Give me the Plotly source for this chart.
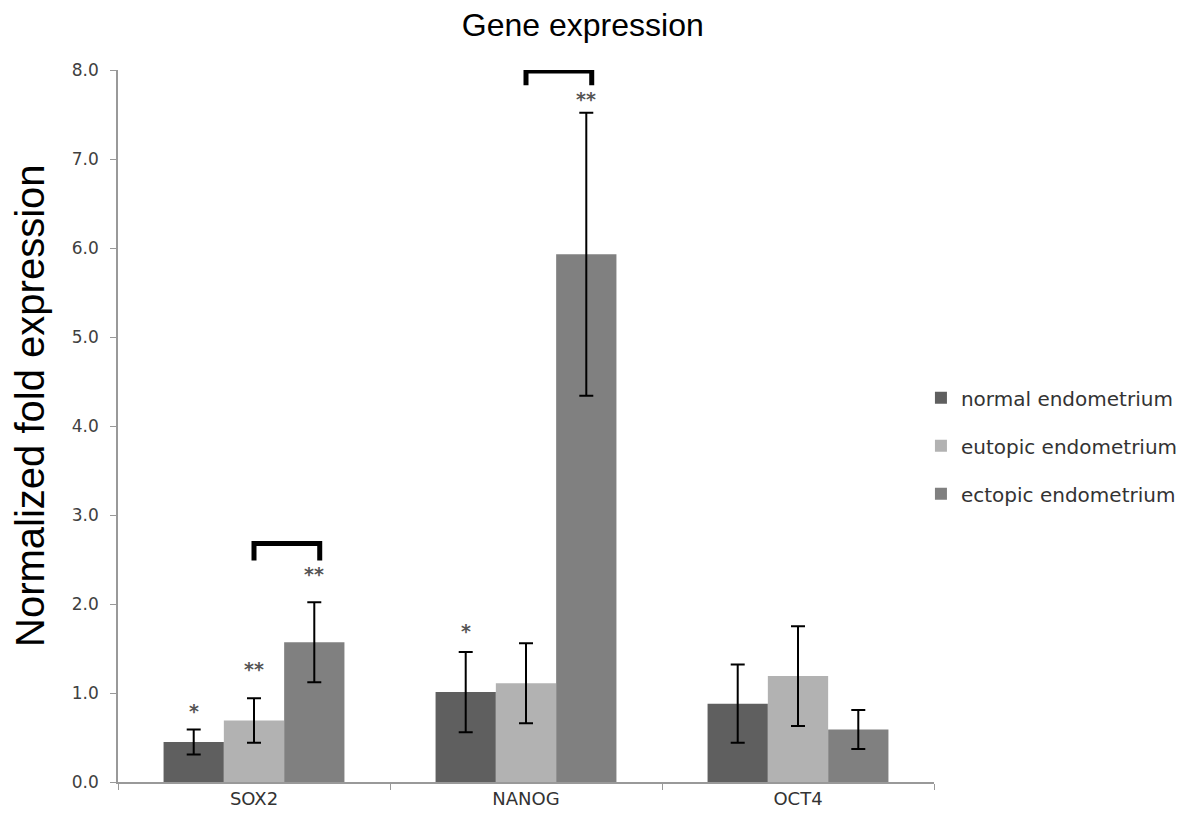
import plotly.graph_objects as go

genes = ["SOX2", "NANOG", "OCT4"]
series_names = ["normal endometrium", "eutopic endometrium", "ectopic endometrium"]
normal_vals = [0.45, 1.01, 0.88]
normal_err = [0.14, 0.45, 0.44]
eutopic_vals = [0.69, 1.11, 1.19]
eutopic_err = [0.25, 0.45, 0.56]
ectopic_vals = [1.57, 5.93, 0.59]
ectopic_err = [0.45, 1.59, 0.22]
colors = ["#5f5f5f", "#b2b2b2", "#808080"]
y_ticks = [0, 1, 2, 3, 4, 5, 6, 7, 8]

# significance stars: (gene index, series index, y position, text)
star_gene = [0, 0, 0, 1, 1]
star_series = [0, 1, 2, 0, 2]
star_y = [0.80, 1.27, 2.34, 1.70, 7.67]
star_text = ["*", "**", "**", "*", "**"]

# brackets: gene index, top y, bottom y (from middle bar to right bar)
bracket_gene = [0, 1]
bracket_top = [2.68, 7.99]
bracket_bottom = [2.49, 7.83]

values = [normal_vals, eutopic_vals, ectopic_vals]
errors = [normal_err, eutopic_err, ectopic_err]

fig = go.Figure()
for i in range(3):
    fig.add_trace(go.Bar(
        name=series_names[i], x=genes, y=values[i],
        marker=dict(color=colors[i], line=dict(width=0)),
        error_y=dict(type="data", array=errors[i], color="black", thickness=2, width=7),
        legendgroup=series_names[i],
    ))

bargap = 0.335
bw = (1 - bargap) / 3
offsets = [-bw, 0, bw]

annotations = []
for g, s, y, t in zip(star_gene, star_series, star_y, star_text):
    annotations.append(dict(x=g + offsets[s], y=y, xref="x", yref="y", text=t,
                            showarrow=False, font=dict(family="DejaVu Sans", size=19, color="#555555", weight="bold")))

shapes = []
for g, yt, yb in zip(bracket_gene, bracket_top, bracket_bottom):
    x0 = g + offsets[1]
    x1 = g + offsets[2] + 0.02
    shapes.append(dict(type="path", xref="x", yref="y",
                       path=f"M {x0},{yb} L {x0},{yt} L {x1},{yt} L {x1},{yb}",
                       line=dict(color="black", width=5)))

annotations.append(dict(x=-0.108, y=0.528, xref="paper", yref="paper", text="Normalized fold expression",
                        textangle=-90, showarrow=False, xanchor="center", yanchor="middle",
                        font=dict(family="Liberation Sans, Arial", size=40, color="black")))

fig.update_layout(
    width=1200, height=828,
    paper_bgcolor="white", plot_bgcolor="white",
    margin=dict(l=110, r=274, t=62, b=54),
    barmode="group", bargap=bargap, bargroupgap=0,
    title=dict(text="Gene expression", x=0.479, xref="container", y=0.993, yref="container",
               xanchor="center", yanchor="top",
               font=dict(family="Liberation Sans, Arial", size=32, color="black")),
    xaxis=dict(showline=True, linecolor="#999999", linewidth=1.5, ticks="outside", tickson="boundaries",
               ticklen=6, tickcolor="#999999", showgrid=False, range=[-0.5, 2.5],
               tickfont=dict(family="DejaVu Sans", size=18, color="#333333")),
    yaxis=dict(showline=True, linecolor="#999999", linewidth=1.5, ticks="outside", ticklen=6,
               tickcolor="#999999", showgrid=False, zeroline=False, range=[0, 8],
               tickvals=y_ticks, tickformat=".1f", ticklabelstandoff=8,
               tickfont=dict(family="DejaVu Sans", size=17, color="#404040")),
    legend=dict(x=0.984, y=0.567, xanchor="left", yanchor="top", traceorder="grouped",
                tracegroupgap=19, font=dict(family="DejaVu Sans", size=20, color="#333333")),
    annotations=annotations, shapes=shapes,
)

fig.write_html("out.html")
